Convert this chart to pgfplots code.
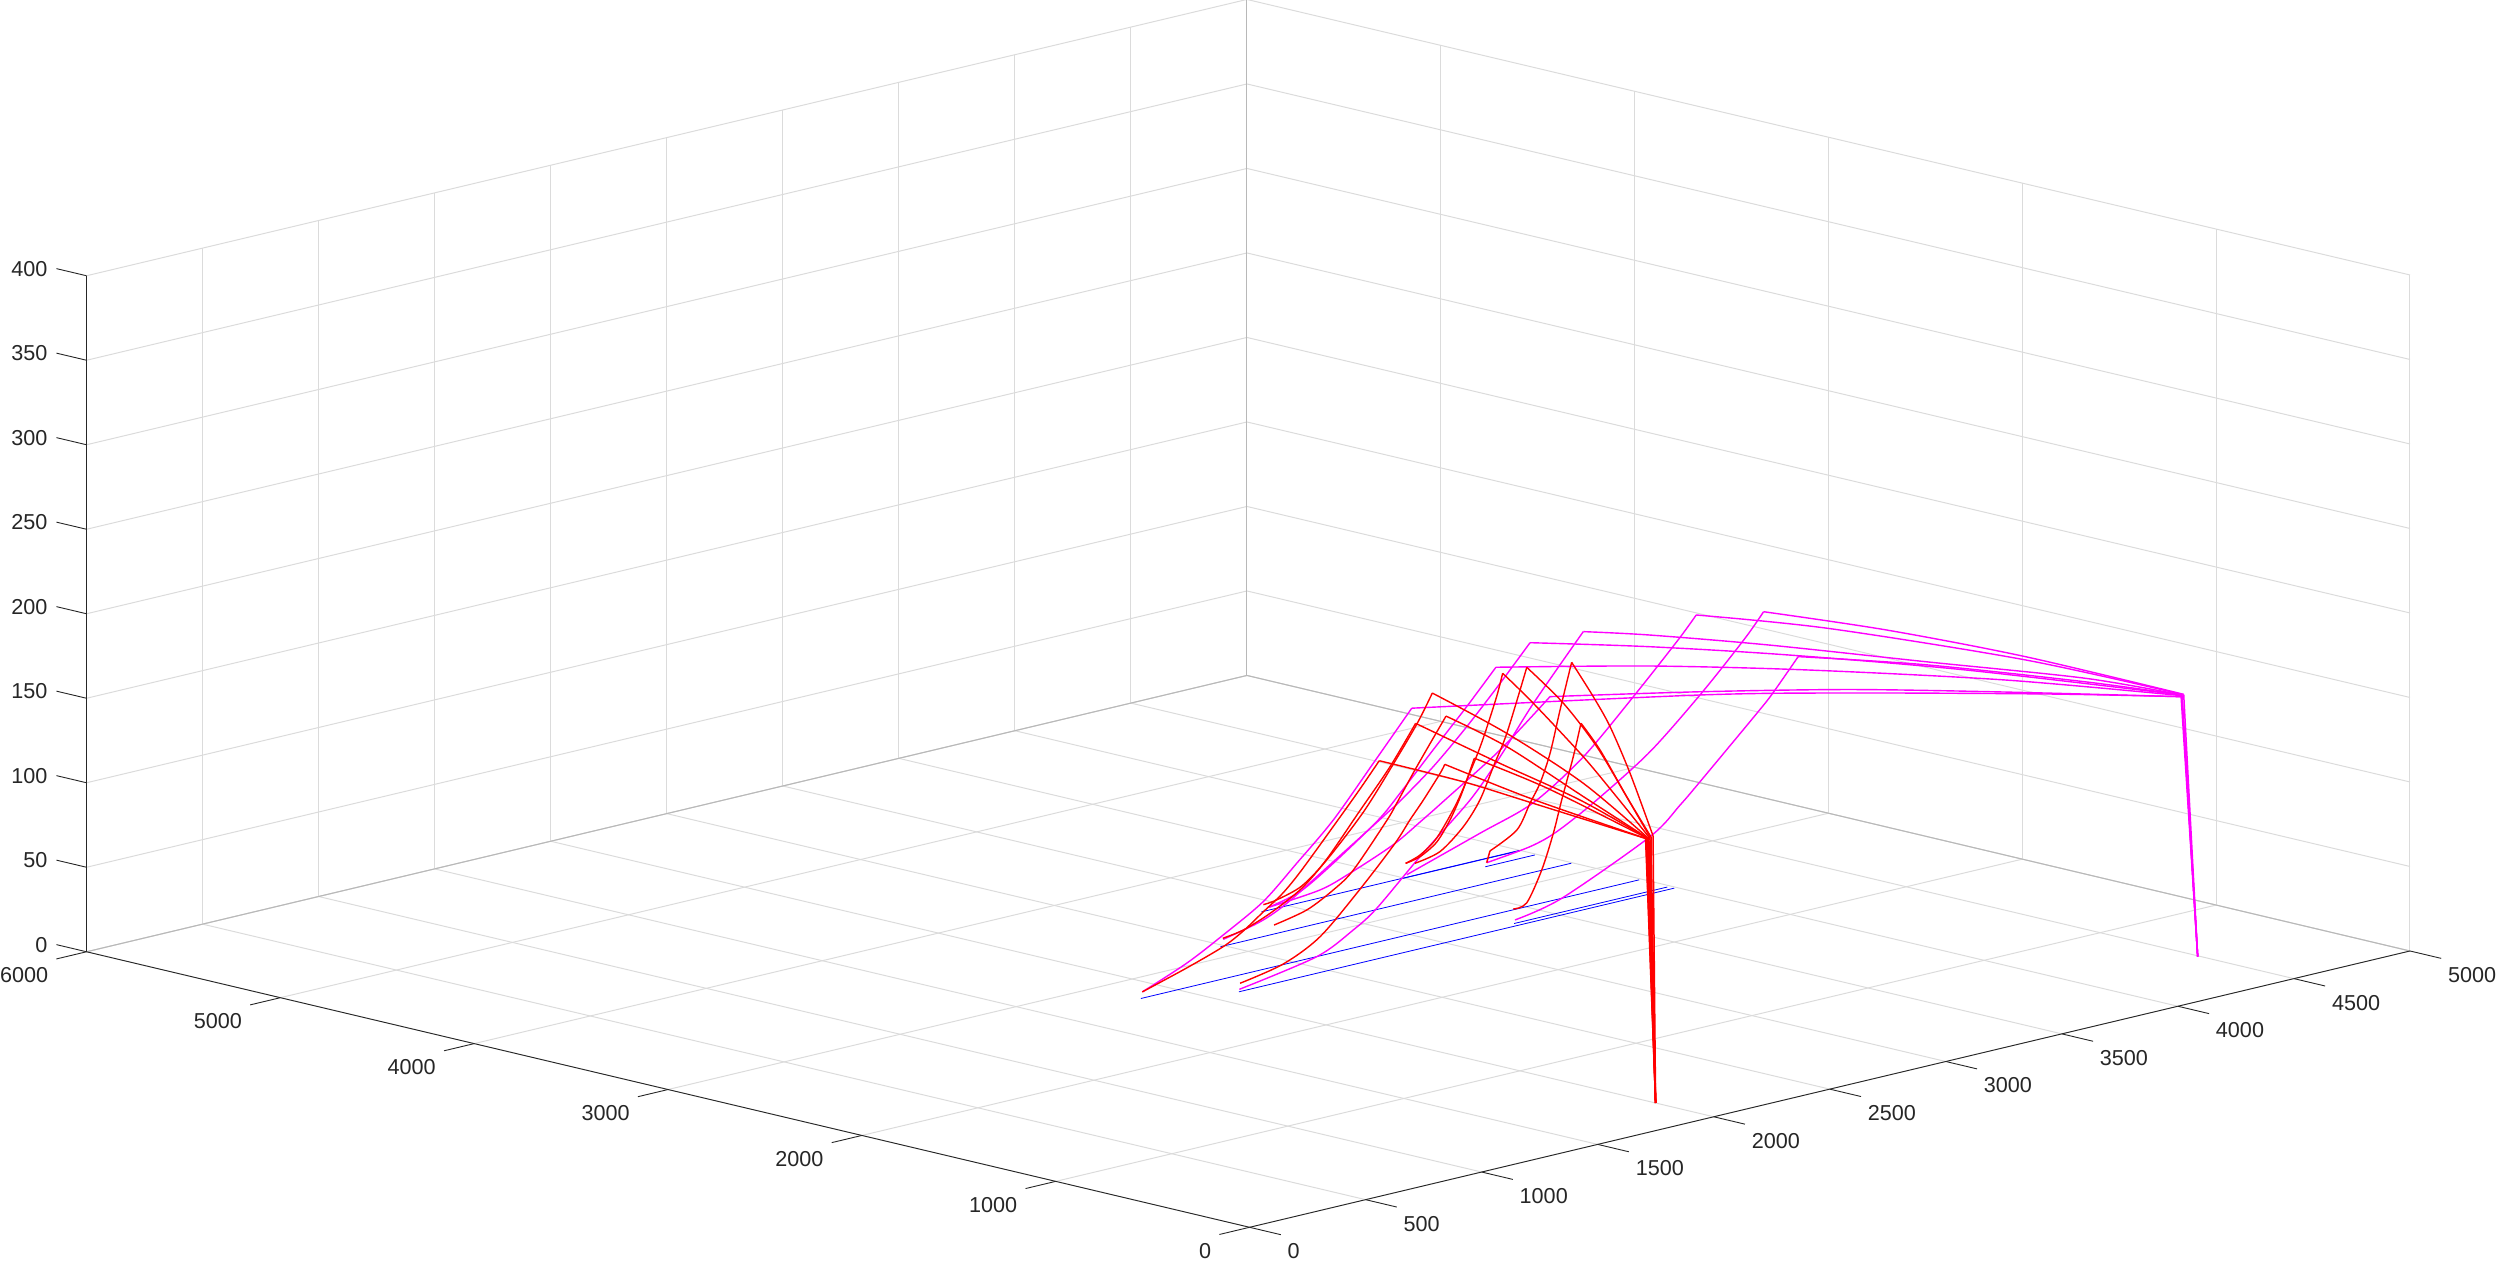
\documentclass[border=0pt]{standalone}
\usepackage{fontspec}
\setmainfont{Liberation Sans}
\usepackage{pgfplots}
\pgfplotsset{compat=1.18}
\definecolor{mgrid}{gray}{0.86}
\definecolor{medge}{gray}{0.72}
\definecolor{mtext}{gray}{0.15}
\definecolor{mmag}{rgb}{1,0,1}
\definecolor{mred}{rgb}{1,0,0}
\definecolor{mblue}{rgb}{0,0,1}
\pgfplotsset{
 rline/.style={no marks,color=mred,line width=0.7pt,line join=round,smooth,tension=0.5},
 mline/.style={no marks,color=mmag,line width=0.7pt,line join=round,smooth,tension=0.5},
 rv/.style={no marks,color=mred,line width=0.75pt},
 mv/.style={no marks,color=mmag,line width=0.75pt},
 bline/.style={no marks,color=mblue,line width=0.4pt},
 axl/.style={no marks,color=mtext,line width=0.45pt},
 edg/.style={no marks,color=medge,line width=0.5pt},
}
\begin{document}
\begin{tikzpicture}
\useasboundingbox (-624.8pt,-16.85pt) rectangle (623.2pt,613.65pt);
\begin{axis}[
 at={(0pt,0pt)},anchor=origin,
 x={(0.11604pt,0.02763pt)},
 y={(-0.096925pt,0.022965pt)},
 z={(0pt,0.845pt)},
 xmin=0,xmax=5000,ymin=0,ymax=6000,zmin=0,zmax=400,
 xtick={0,500,...,5000},ytick={0,1000,...,6000},ztick={0,50,...,400},
 grid=major,
 grid style={color=mgrid,line width=0.5pt},
 axis line style={draw=none},
 major tick length=0pt,
 tick style={draw=none},
 clip=false,
 /pgf/number format/assume math mode=true,
 /pgf/number format/1000 sep={},
 tick label style={font=\fontsize{10.8}{13}\selectfont,color=mtext},
 xticklabel style={anchor=west,xshift=15.5pt,yshift=-12pt},
 yticklabel style={anchor=east,xshift=-15.7pt,yshift=-11.65pt},
 zticklabel style={anchor=east,xshift=-16pt,yshift=3.5pt},
]
% box edges
\addplot3[edg] coordinates {(0,6000,0)(5000,6000,0)};
\addplot3[edg] coordinates {(5000,0,0)(5000,6000,0)};
\addplot3[edg] coordinates {(5000,6000,0)(5000,6000,400)};
\addplot3[axl] coordinates {(0,0,0)(5000,0,0)};
\addplot3[axl] coordinates {(0,0,0)(0,6000,0)};
\addplot3[axl] coordinates {(0,6000,0)(0,6000,400)};
% ticks
\addplot3[axl] coordinates {(0,0,0)(0,-161,0)};
\addplot3[axl] coordinates {(500,0,0)(500,-161,0)};
\addplot3[axl] coordinates {(1000,0,0)(1000,-161,0)};
\addplot3[axl] coordinates {(1500,0,0)(1500,-161,0)};
\addplot3[axl] coordinates {(2000,0,0)(2000,-161,0)};
\addplot3[axl] coordinates {(2500,0,0)(2500,-161,0)};
\addplot3[axl] coordinates {(3000,0,0)(3000,-161,0)};
\addplot3[axl] coordinates {(3500,0,0)(3500,-161,0)};
\addplot3[axl] coordinates {(4000,0,0)(4000,-161,0)};
\addplot3[axl] coordinates {(4500,0,0)(4500,-161,0)};
\addplot3[axl] coordinates {(5000,0,0)(5000,-161,0)};
\addplot3[axl] coordinates {(0,0,0)(-130,0,0)};
\addplot3[axl] coordinates {(0,1000,0)(-130,1000,0)};
\addplot3[axl] coordinates {(0,2000,0)(-130,2000,0)};
\addplot3[axl] coordinates {(0,3000,0)(-130,3000,0)};
\addplot3[axl] coordinates {(0,4000,0)(-130,4000,0)};
\addplot3[axl] coordinates {(0,5000,0)(-130,5000,0)};
\addplot3[axl] coordinates {(0,6000,0)(-130,6000,0)};
\addplot3[axl] coordinates {(0,6000,0)(0,6155,0)};
\addplot3[axl] coordinates {(0,6000,50)(0,6155,50)};
\addplot3[axl] coordinates {(0,6000,100)(0,6155,100)};
\addplot3[axl] coordinates {(0,6000,150)(0,6155,150)};
\addplot3[axl] coordinates {(0,6000,200)(0,6155,200)};
\addplot3[axl] coordinates {(0,6000,250)(0,6155,250)};
\addplot3[axl] coordinates {(0,6000,300)(0,6155,300)};
\addplot3[axl] coordinates {(0,6000,350)(0,6155,350)};
\addplot3[axl] coordinates {(0,6000,400)(0,6155,400)};
% blue lanes
\addplot3[bline] coordinates {(1842,2766,0)(3989,2766,0)};
\addplot3[bline] coordinates {(2113,2585,0)(3989,2585,0)};
\addplot3[bline] coordinates {(3324,2615,0)(3984,2615,0)};
\addplot3[bline] coordinates {(2482,3122,0)(3994,3122,0)};
\addplot3[bline] coordinates {(2887,3395,0)(3997,3395,0)};
\addplot3[bline] coordinates {(3496,3393,0)(3997,3391,0)};
\addplot3[bline] coordinates {(3777,3306,0)(3990,3306,0)};
% magenta
\addplot3[mline] coordinates {(1848,2766,3.7)(2039,2766,14.4)(2197,2766,26)(2369,2766,40.1)(2513,2766,58)(2671,2766,78.5)(2843,2766,106.4)(3009,2766,133.6)};
\addplot3[mline] coordinates {(3009,2766,133.6)(3551,1927,146.5)(3831,1490,150.4)(4207,908,153.3)(4454,527,154)};
\addplot3[mv] coordinates {(4454,527,154)(4492,487,0)};
\addplot3[mline] coordinates {(2919,3395,1.7)(3053,3395,6.5)(3196,3395,18.6)(3390,3395,37.9)(3484,3395,50.7)(3626,3395,71.6)(3771,3395,92.5)(3897,3395,111.7)};
\addplot3[mline] coordinates {(3897,3395,111.7)(4025,2753,125.7)(4155,2094,137)(4319,1269,148.1)(4465,536,154)};
\addplot3[mv] coordinates {(4465,536,154)(4492,487,0)};
\addplot3[mline] coordinates {(2494,3122,4)(2653,3122,9.2)(2768,3122,16.4)(2968,3122,34.4)(3205,3122,56.1)(3256,3122,60.9)(3399,3122,76.6)(3543,3122,95.5)(3687,3122,116.5)(3816,3122,136.3)};
\addplot3[mline] coordinates {(3816,3122,136.3)(3936,2647,142.9)(4076,2100,148.3)(4254,1396,152.7)(4471,543,154)};
\addplot3[mv] coordinates {(4471,543,154)(4492,487,0)};
\addplot3[mline] coordinates {(2919,3395,1.7)(3139,3395,4.7)(3268,3395,10.4)(3454,3395,21.1)(3570,3395,30.8)(3678,3395,40.4)(3915,3395,62.2)(4130,3395,86.7)};
\addplot3[mline] coordinates {(4130,3395,86.7)(4207,2713,105.6)(4284,2032,122.9)(4361,1350,137.5)(4454,527,154)};
\addplot3[mline] coordinates {(2115,2585,1.4)(2448,2585,9.8)(2606,2585,20.5)(2707,2585,30)(2893,2585,54.4)(3109,2585,80.9)(3238,2585,102.2)(3382,2585,129.2)(3597,2585,164.6)};
\addplot3[mline] coordinates {(3597,2585,164.6)(3694,2357,165.6)(3868,1953,165)(4098,1413,162.2)(4329,873,159.6)(4471,543,154)};
\addplot3[mline] coordinates {(3513,3395,1.5)(3828,3395,15.7)(4057,3395,26.2)(4274,3395,46.4)(4489,3395,74.9)(4682,3395,102.2)(4760,3395,114.4)};
\addplot3[mline] coordinates {(4760,3395,114.4)(4683,2623,130)(4568,1466,146.5)(4477,551,154)};
\addplot3[mv] coordinates {(4477,551,154)(4492,487,0)};
\addplot3[mline] coordinates {(3783,3306,2.2)(3970,3306,5.6)(4085,3306,10.7)(4257,3306,23.8)(4487,3306,44.9)(4708,3306,72.2)(4896,3306,98.6)(4976,3306,111.7)};
\addplot3[mline] coordinates {(4976,3306,111.7)(4831,2495,127.6)(4668,1585,141.9)(4481,546,154)};
\addplot3[mv] coordinates {(4481,546,154)(4492,487,0)};
\addplot3[mline] coordinates {(3328,2615,2)(3529,2615,8.2)(3909,2615,32.2)(4039,2615,46.7)(4131,2615,58.5)(4370,2615,90.2)(4438,2615,99.8)(4548,2615,117.9)};
\addplot3[mline] coordinates {(4548,2615,117.9)(4523,1921,132.7)(4490,1066,147)(4471,543,154)};
% red
\addplot3[rline] coordinates {(1848,2766,3.7)(2039,2766,11.6)(2197,2766,19.1)(2283,2766,25.5)(2369,2766,34)(2454,2766,42.4)(2535,2766,53.4)(2700,2766,79.3)(2786,2766,93.1)(2869,2766,107.1)};
\addplot3[rline] coordinates {(2869,2766,107.1)(2589,1997,124.7)(2355,1356,137)(1971,317,157)};
\addplot3[rv] coordinates {(1971,317,157)(2000,300,0)};
\addplot3[rline] coordinates {(2492,3122,4.7)(2581,3122,6.7)(2696,3122,12.8)(2832,3122,23.1)(2940,3122,36.9)(3076,3122,59.7)(3213,3122,82.7)(3323,3122,104.7)};
\addplot3[rline] coordinates {(3323,3122,104.7)(2833,2100,124.8)(2368,1131,144.7)(1979,319,157)};
\addplot3[rv] coordinates {(1979,319,157)(2000,300,0)};
\addplot3[rline] coordinates {(2895,3395,4)(2952,3395,4.9)(3060,3395,9.6)(3168,3395,21.5)(3326,3395,44.7)(3455,3395,68.9)(3558,3395,89.6)(3623,3395,105.4)};
\addplot3[rline] coordinates {(3623,3395,105.4)(3057,2333,128.9)(2474,1240,148.1)(1981,316,157)};
\addplot3[rv] coordinates {(1981,316,157)(2000,300,0)};
\addplot3[rline] coordinates {(2713,3122,5.3)(2854,3122,9.6)(2968,3122,17.7)(3055,3122,26.7)(3200,3122,51.5)(3242,3122,60.2)(3328,3122,78.9)(3454,3122,104.7)};
\addplot3[rline] coordinates {(3454,3122,104.7)(3010,2277,124.1)(2450,1211,141.8)(1980,318,157)};
\addplot3[rv] coordinates {(1980,318,157)(2000,300,0)};
\addplot3[rline] coordinates {(2118,2585,4.9)(2304,2585,10.2)(2463,2585,21.2)(2638,2585,44.1)(2786,2585,65.9)(2850,2585,77.6)(2908,2585,87.5)(2980,2585,100.9)(3000,2585,105.6)};
\addplot3[rline] coordinates {(3000,2585,105.6)(2548,1587,126.7)(1972,316,157)};
\addplot3[rv] coordinates {(1972,316,157)(2000,300,0)};
\addplot3[rline] coordinates {(3508,3395,8.4)(3570,3395,10.3)(3642,3395,16.6)(3699,3395,27.8)(3742,3395,39.4)(3771,3395,49.1)(3804,3395,60.9)};
\addplot3[rline] coordinates {(3804,3395,60.9)(3037,2103,103.5)(1978,320,157)};
\addplot3[rv] coordinates {(1978,320,157)(2000,300,0)};
\addplot3[rline] coordinates {(3508,3395,8.4)(3570,3395,11.3)(3642,3395,19)(3728,3395,36.9)(3800,3395,57.6)(3843,3395,71.7)(3900,3395,94.2)(3926,3395,107.2)};
\addplot3[rline] coordinates {(3926,3395,107.2)(3522,2753,120.1)(2861,1704,138.6)(2419,1003,148.4)(1992,325,157)};
\addplot3[rv] coordinates {(1992,325,157)(2000,300,0)};
\addplot3[rline] coordinates {(3548,3395,7.1)(3656,3395,10.5)(3757,3395,22)(3828,3395,35.4)(3886,3395,53.3)(3944,3395,71.1)(4030,3395,107.3)};
\addplot3[rline] coordinates {(4030,3395,107.3)(3426,2483,130.6)(2874,1650,145.6)(2379,903,152.4)(1994,322,157)};
\addplot3[rv] coordinates {(1994,322,157)(2000,300,0)};
\addplot3[rv] coordinates {(3783,3306,2.2)(3797,3306,8.7)};
\addplot3[rline] coordinates {(3797,3306,8.7)(3913,3306,17.3)(3970,3306,31.4)(4013,3306,41.8)(4056,3306,58)(4099,3306,82.2)(4149,3306,108.8)};
\addplot3[rline] coordinates {(4149,3306,108.8)(3581,2514,128.5)(3142,1902,141.8)(2615,1168,151.4)(2010,325,157)};
\addplot3[rv] coordinates {(2010,325,157)(2000,300,0)};
\addplot3[rline] coordinates {(3320,2615,8.7)(3378,2615,10.4)(3443,2615,27.8)(3493,2615,47.9)(3529,2615,66.4)(3579,2615,90.4)(3612,2615,109.1)};
\addplot3[rline] coordinates {(3612,2615,109.1)(3174,1992,124.5)(2558,1117,140.8)(1997,320,157)};
\addplot3[rv] coordinates {(1997,320,157)(2000,300,0)};
\end{axis}
\end{tikzpicture}
\end{document}
